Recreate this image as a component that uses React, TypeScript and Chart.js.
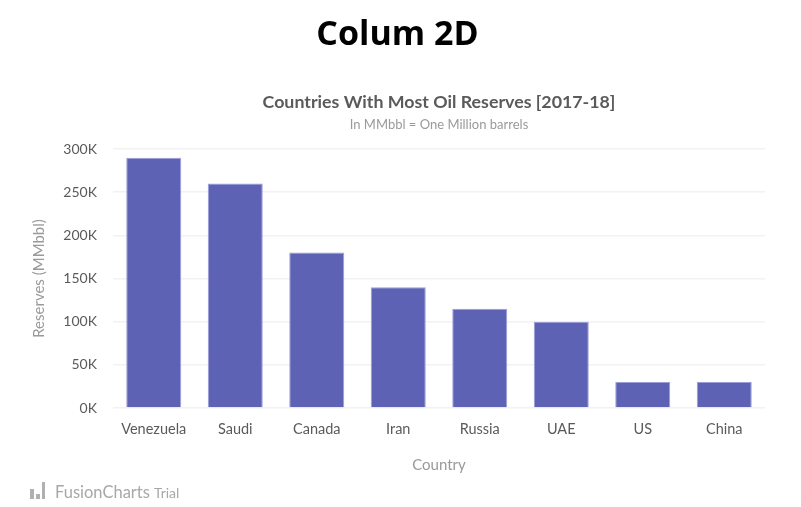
import React, { useEffect, useRef } from "react";
import { Chart, type ChartConfiguration, type Plugin, registerables } from "chart.js";

Chart.register(...registerables);

const countries = ["Venezuela", "Saudi", "Canada", "Iran", "Russia", "UAE", "US", "China"];
const reserves = [290000, 260000, 180000, 140000, 115000, 100000, 30000, 30000];
const yTicks = [0, 50000, 100000, 150000, 200000, 250000, 300000];

const caption = "Countries With Most Oil Reserves [2017-18]";
const subCaption = "In MMbbl = One Million barrels";

const FONT = "Lato, 'Noto Sans', sans-serif";

// caption and subcaption sit centred over the plot area, not the canvas
const captionPlugin: Plugin<"bar"> = {
  id: "captions",
  afterDraw(chart) {
    const { ctx, chartArea } = chart;
    const cx = (chartArea.left + chartArea.right) / 2;
    ctx.save();
    ctx.textAlign = "center";
    ctx.textBaseline = "middle";
    ctx.fillStyle = "#5a5a5a";
    ctx.font = `bold 17.8px ${FONT}`;
    ctx.fillText(caption, cx, 102);
    ctx.fillStyle = "#9a9a9a";
    ctx.font = `13px ${FONT}`;
    ctx.fillText(subCaption, cx, 125);
    ctx.restore();
  },
};

function ColumnChart() {
  const chartRef = useRef<HTMLCanvasElement | null>(null);
  const chartInstance = useRef<Chart | null>(null);

  useEffect(() => {
    if (!chartRef.current) return;
    if (chartInstance.current) chartInstance.current.destroy();

    const config: ChartConfiguration<"bar"> = {
      type: "bar",
      data: {
        labels: countries,
        datasets: [
          {
            data: reserves,
            backgroundColor: "#5d62b5",
            borderColor: "#9a9dd8",
            borderWidth: 1,
            categoryPercentage: 1,
            barPercentage: 0.675,
          },
        ],
      },
      options: {
        animation: false,
        responsive: false,
        layout: { padding: { top: 149, left: 28, right: 36, bottom: 27 } },
        plugins: {
          legend: { display: false },
          tooltip: { enabled: false },
        },
        scales: {
          x: {
            grid: { display: false },
            border: { display: false },
            ticks: { color: "#5a5a5a", font: { family: FONT, size: 14.5 }, padding: 5 },
            title: {
              display: true,
              text: "Country",
              color: "#9a9a9a",
              font: { family: FONT, size: 15 },
              padding: { top: 4, bottom: 6 },
            },
            afterFit: (scale) => {
              scale.height = 72;
            },
          },
          y: {
            min: 0,
            max: 300000,
            afterBuildTicks: (scale) => {
              scale.ticks = yTicks.map((v) => ({ value: v }));
            },
            grid: { color: "#f2f2f2", lineWidth: 1.5, drawTicks: false },
            border: { display: false },
            ticks: {
              color: "#5a5a5a",
              font: { family: FONT, size: 14 },
              padding: 16,
              callback: (v) => `${Number(v) / 1000}K`,
            },
            title: {
              display: true,
              text: "Reserves (MMbbl)",
              color: "#9a9a9a",
              font: { family: FONT, size: 15 },
              padding: { top: 2, bottom: 2 },
            },
            afterFit: (scale) => {
              scale.width = 85;
            },
          },
        },
      },
      plugins: [captionPlugin],
    };

    chartInstance.current = new Chart(chartRef.current, config);

    return () => {
      if (chartInstance.current) {
        chartInstance.current.destroy();
        chartInstance.current = null;
      }
    };
  }, []);

  return <canvas ref={chartRef} width={801} height={507} style={{ display: "block", width: 801, height: 507 }} />;
}

export default function App() {
  return (
    <div style={{ position: "absolute", left: 0, top: 0, width: 801, height: 507, background: "#fff" }}>
      <ColumnChart />
      <div
        style={{
          position: "absolute",
          top: 8,
          left: 0,
          width: 795,
          textAlign: "center",
          fontFamily: "'Open Sans', sans-serif",
          fontWeight: 700,
          fontSize: 34,
          lineHeight: "48px",
          color: "#000",
        }}
      >
        Colum 2D
      </div>
      <div
        style={{
          position: "absolute",
          left: 30,
          top: 482,
          display: "flex",
          alignItems: "flex-end",
          fontFamily: FONT,
          color: "#a8a8a8",
        }}
      >
        <span style={{ display: "flex", alignItems: "flex-end", height: 17, marginRight: 10, marginBottom: 3 }}>
          <span style={{ width: 4, height: 10, background: "#b0b0b0", marginRight: 2 }} />
          <span style={{ width: 4, height: 5, background: "#b0b0b0", marginRight: 2 }} />
          <span style={{ width: 3, height: 17, background: "#b0b0b0" }} />
        </span>
        <span style={{ fontSize: 16.5 }}>FusionCharts</span>
        <span style={{ fontSize: 14, marginLeft: 4, marginBottom: 1 }}>Trial</span>
      </div>
    </div>
  );
}
